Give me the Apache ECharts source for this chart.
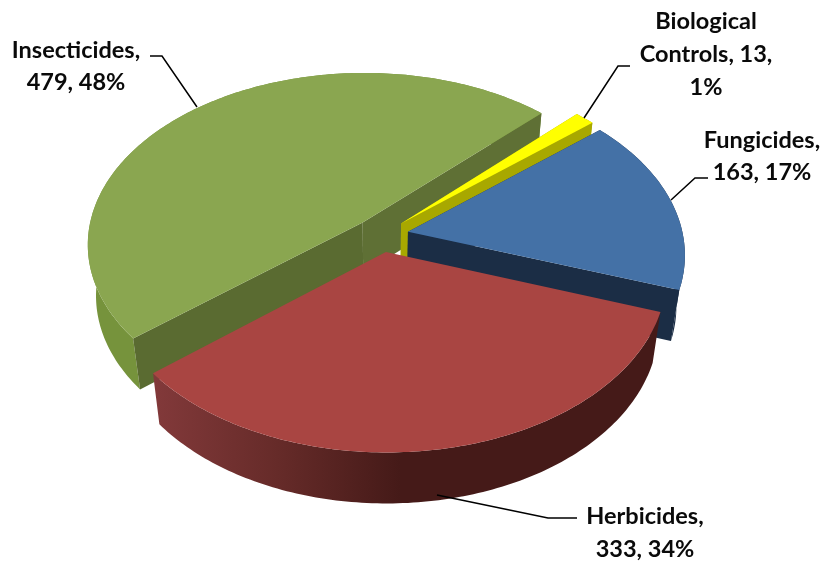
<!DOCTYPE html>
<html>
<head>
<meta charset="utf-8">
<style>html,body{margin:0;padding:0;background:#fff}#c{width:825px;height:561px}</style>
<script src="https://cdn.jsdelivr.net/npm/echarts@6/dist/echarts.min.js"></script>
</head>
<body>
<div id="c"></div>
<script>
// Data (clockwise from the first slice)
const categories = ['Biological Controls', 'Fungicides', 'Herbicides', 'Insecticides'];
const values = [13, 163, 333, 479];
const percents = [1, 17, 34, 48];
const labelLines = [
  ['Biological', 'Controls, 13,', '1%'],
  ['Fungicides,', '163, 17%'],
  ['Herbicides,', '333, 34%'],
  ['Insecticides,', '479, 48%']
];

// Styling and layout
const topColors = ['#ffff00', '#4471a6', '#a94542', '#8aa650'];
const sideColors = ['#a8a800', '#1b2d45', '#451a18', '#76933c'];
const innerColors = ['#a8a800', '#1b2d45', null, '#5a6b31'];
const innerEndColors = ['#a8a800', '#1b2d45', null, '#5f7035'];
const paintOrder = [1, 2, 3, 0];
const view = { cx: 381, cy: 235, R: 275, Ry: 171, persp: 0.124, depth: 51, shrink: 0.972,
  startDeg: 45, explode: 0.1 };
const labelAnchors = [
  { x: 706, ys: [21, 54, 87], leader: [[630, 66], [618, 66], [584, 118]] },
  { x: 762, ys: [140, 172], leader: [[708, 178], [695, 178], [671, 200]] },
  { x: 645, ys: [516, 549], leader: [[577, 518], [548, 518], [437, 495]] },
  { x: 76, ys: [50, 82], leader: [[150, 56], [162, 56], [197, 107]] }
];

const total = values.reduce((a, b) => a + b, 0);
function project(u, v, lower) {
  const s = 1 / (1 - view.persp * v);
  let x = view.cx + view.R * u * s;
  let y = view.cy + view.Ry * v * s;
  if (lower) {
    x = view.cx + (x - view.cx) * view.shrink;
    y += view.depth;
  }
  return [x, y];
}
function sliceGeometry(idx) {
  let before = 0;
  for (let i = 0; i < idx; i++) before += values[i];
  const a0 = (view.startDeg + before / total * 360) * Math.PI / 180;
  const a1 = a0 + values[idx] / total * 2 * Math.PI;
  const mid = (a0 + a1) / 2;
  const ox = view.explode * Math.sin(mid);
  const oy = -view.explode * Math.cos(mid);
  const n = Math.max(6, Math.round((a1 - a0) * 60));
  const arc = (lower) => {
    const pts = [];
    for (let i = 0; i <= n; i++) {
      const a = a0 + (a1 - a0) * i / n;
      pts.push(project(ox + Math.sin(a), oy - Math.cos(a), lower));
    }
    return pts;
  };
  return { ox, oy, arc };
}
function poly(points, fill, z2) {
  return { type: 'polygon', shape: { points }, z2,
    style: { fill, stroke: null } };
}
function renderItem(params, api) {
  const idx = api.value(0);
  const g = sliceGeometry(idx);
  const order = paintOrder[idx] * 10;
  const top = g.arc(false), low = g.arc(true);
  const apexT = project(g.ox, g.oy, false), apexL = project(g.ox, g.oy, true);
  const last = top.length - 1;
  let sideFill = sideColors[idx];
  if (idx === 2) {
    // Herbicides: outer wall shades from the left corner to the front
    sideFill = new echarts.graphic.LinearGradient(155, 0, 400, 0, [
      { offset: 0, color: '#82393a' },
      { offset: 0.5, color: '#662b29' },
      { offset: 1, color: '#451a18' }
    ], true);
  }
  const children = [poly(top.concat(low.slice().reverse()), sideFill, order + 1)];
  if (innerColors[idx]) {
    children.push(poly([apexT, top[0], low[0], apexL], innerColors[idx], order + 2));
    children.push(poly([apexT, top[last], low[last], apexL], innerEndColors[idx], order + 2));
  }
  children.push(poly([apexT].concat(top), topColors[idx], order + 3));
  const a = labelAnchors[idx];
  children.push({ type: 'polyline', shape: { points: a.leader }, z2: 100,
    style: { stroke: '#000', lineWidth: 1.5, fill: null } });
  labelLines[idx].forEach((t, i) => {
    children.push({ type: 'text', z2: 101, x: a.x, y: a.ys[i],
      style: { text: t, fill: '#0a0a0a', align: 'center', verticalAlign: 'middle',
        font: 'bold 23.5px Lato, "Open Sans", sans-serif' } });
  });
  return { type: 'group', children };
}
const chart = echarts.init(document.getElementById('c'), null, { renderer: 'canvas', width: 825, height: 561 });
chart.setOption({
  animation: false,
  backgroundColor: '#fff',
  series: [{
    type: 'custom',
    coordinateSystem: 'none',
    renderItem,
    clip: false,
    data: categories.map((name, i) => ({ name, value: [i, values[i], percents[i]] }))
  }]
});
</script>
</body>
</html>
